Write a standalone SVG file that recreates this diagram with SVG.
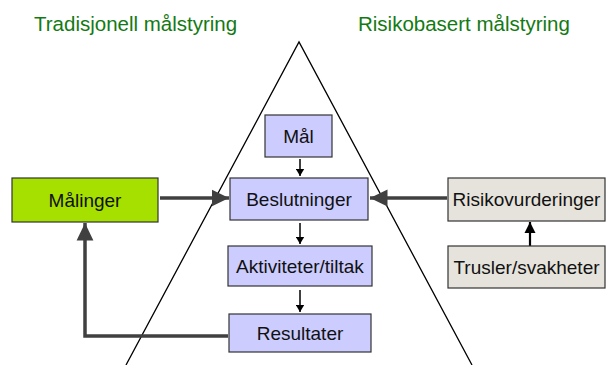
<svg xmlns="http://www.w3.org/2000/svg" width="606" height="365" viewBox="0 0 606 365">
<style>
.title{font-family:"Liberation Sans",Arial,sans-serif;font-size:20.5px;fill:#137a13}
.lbl{font-family:"Liberation Sans",Arial,sans-serif;font-size:19px;fill:#111;text-anchor:middle}
.c{fill:#ccccff;stroke:#333;stroke-width:1.2}
.g{fill:#a6e000;stroke:#333;stroke-width:1.2}
.r{fill:#e6e3dc;stroke:#333;stroke-width:1.2}
.thick{fill:none;stroke:#404040;stroke-width:3.5}
.thin{fill:none;stroke:#000;stroke-width:1.5}
</style>
<defs>
<marker id="big" markerWidth="6" markerHeight="6" refX="5" refY="3" orient="auto" markerUnits="strokeWidth"><path d="M0,0.6 L5,3 L0,5.4 Z" fill="#404040"/></marker>
<marker id="med" markerWidth="6" markerHeight="6" refX="5" refY="3" orient="auto" markerUnits="strokeWidth"><path d="M0,0.5 L5,3 L0,5.5 Z" fill="#000"/></marker>
<marker id="sm" markerWidth="6" markerHeight="6" refX="5" refY="3" orient="auto" markerUnits="strokeWidth"><path d="M0,0 L5,3 L0,6 Z" fill="#000"/></marker>
</defs>
<rect width="606" height="365" fill="#fff"/>
<text class="title" x="34" y="31">Tradisjonell målstyring</text>
<text class="title" x="358" y="31">Risikobasert målstyring</text>
<polyline points="126,365 299,42 472,365" fill="none" stroke="#000" stroke-width="1.3"/>
<g id="connectors">
<line class="thick" x1="160" y1="198" x2="229" y2="198" marker-end="url(#big)"/>
<line class="thick" x1="447" y1="198" x2="370" y2="198" marker-end="url(#big)"/>
<path class="thick" d="M228,336 H85 V223" marker-end="url(#big)"/>
<line x1="530" y1="246" x2="530" y2="222" stroke="#000" stroke-width="2.2" marker-end="url(#med)"/>
<line class="thin" x1="300" y1="159" x2="300" y2="176" marker-end="url(#sm)"/>
<line class="thin" x1="300" y1="223" x2="300" y2="244" marker-end="url(#sm)"/>
<line class="thin" x1="300" y1="290" x2="300" y2="312" marker-end="url(#sm)"/>
</g>
<g id="mal"><rect class="c" x="265" y="115" width="67" height="42"/><text class="lbl" x="298.5" y="143">Mål</text></g>
<g id="beslutninger"><rect class="c" x="230" y="178" width="138" height="42"/><text class="lbl" x="299" y="206">Beslutninger</text></g>
<g id="aktiviteter"><rect class="c" x="228" y="246" width="144" height="40"/><text class="lbl" x="300" y="273">Aktiviteter/tiltak</text></g>
<g id="resultater"><rect class="c" x="229" y="314" width="142" height="38"/><text class="lbl" x="300" y="340">Resultater</text></g>
<g id="malinger"><rect class="g" x="12" y="178" width="146" height="44"/><text class="lbl" x="85" y="207">Målinger</text></g>
<g id="risikovurderinger"><rect class="r" x="448" y="178" width="157" height="43"/><text class="lbl" x="526.5" y="206">Risikovurderinger</text></g>
<g id="trusler"><rect class="r" x="448" y="246" width="157" height="42"/><text class="lbl" x="526.5" y="274">Trusler/svakheter</text></g>
</svg>
